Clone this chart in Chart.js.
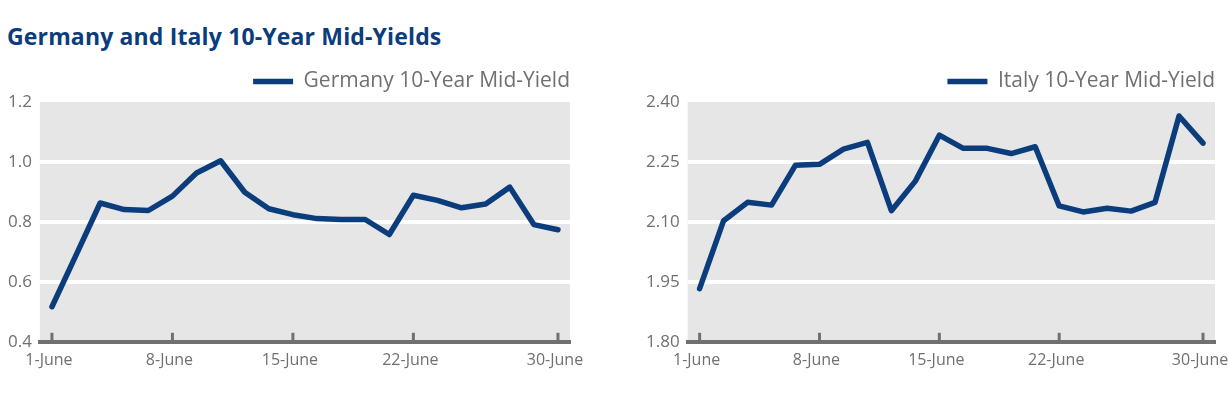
<!DOCTYPE html>
<html>
<head>
<meta charset="utf-8">
<script src="https://cdn.jsdelivr.net/npm/chart.js@4/dist/chart.umd.min.js"></script>
<style>
  body { margin: 0; background: #fff; width: 1228px; height: 397px; position: relative; overflow: hidden; }
  #titulo { position: absolute; left: 7px; top: 20px; font-family: "Open Sans", sans-serif; font-weight: 700;
            font-size: 23px; color: #0b3d7c; letter-spacing: 0.15px; }
  .caja { position: absolute; top: 60px; height: 320px; width: 590px; }
</style>
</head>
<body>
<div id="titulo">Germany and Italy 10-Year Mid-Yields</div>
<div class="caja" style="left:0px"><canvas id="alemania"></canvas></div>
<div class="caja" style="left:638px"><canvas id="italia"></canvas></div>
<script>
// dias de mercado de junio
var dias = ['1-June','2-June','3-June','4-June','5-June','8-June','9-June','10-June','11-June','12-June',
  '15-June','16-June','17-June','18-June','19-June','22-June','23-June','24-June','25-June','26-June',
  '29-June','30-June'];
var etiquetas = ['1-June','8-June','15-June','22-June','30-June'];

var alemania = [0.517, 0.689, 0.863, 0.841, 0.838, 0.886, 0.963, 1.004, 0.899, 0.844, 0.824,
  0.811, 0.808, 0.808, 0.758, 0.889, 0.872, 0.847, 0.860, 0.916, 0.791, 0.774];
var italia = [1.933, 2.103, 2.149, 2.142, 2.242, 2.244, 2.282, 2.299, 2.128, 2.202, 2.317,
  2.284, 2.284, 2.271, 2.288, 2.140, 2.125, 2.134, 2.127, 2.149, 2.365, 2.297];

var azul = '#0b3d7c';
var gris = '#707070';

// fondo gris y marcas del eje x
var fondo = {
  id: 'fondo',
  beforeDraw: function(chart){
    var a = chart.chartArea, c = chart.ctx;
    c.save();
    c.fillStyle = '#e6e6e6';
    c.fillRect(a.left, a.top, a.right - a.left, a.bottom - a.top);
    c.restore();
  },
  afterDraw: function(chart){
    var x = chart.scales.x, c = chart.ctx, a = chart.chartArea;
    c.save();
    c.strokeStyle = gris;
    c.lineWidth = 3;
    x.ticks.forEach(function(t, i){
      if (t.label == null || t.label === '') return;
      var px = x.getPixelForTick(i);
      c.beginPath();
      c.moveTo(px, a.bottom);
      c.lineTo(px, a.bottom - 9);
      c.stroke();
    });
    c.restore();
  }
};

function grafico(id, nombre, datos, min, max, paso, dec, derecha){
  var ctx = document.getElementById(id).getContext('2d');
  return new Chart(ctx, {
    type: 'line',
    data: {
      labels: dias,
      datasets: [{
        label: nombre,
        data: datos,
        borderColor: azul,
        backgroundColor: azul,
        borderWidth: 5.5,
        borderCapStyle: 'round',
        borderJoinStyle: 'round',
        pointRadius: 0,
        tension: 0
      }]
    },
    options: {
      responsive: true,
      maintainAspectRatio: false,
      animation: false,
      layout: { padding: { top: 11, right: derecha, bottom: 1, left: 0 } },
      plugins: {
        tooltip: { enabled: false },
        legend: {
          position: 'top',
          align: 'end',
          labels: {
            usePointStyle: true,
            pointStyle: 'line',
            pointStyleWidth: 40,
            boxHeight: 10,
            color: gris,
            padding: 0,
            font: { family: '"Open Sans", sans-serif', size: 21 }
          }
        }
      },
      scales: {
        x: {
          type: 'category',
          offset: true,
          grid: { display: false, offset: false, drawTicks: false },
          border: { display: true, color: gris, width: 4 },
          afterFit: function(s){ s.paddingRight = 0; },
          ticks: {
            autoSkip: false,
            maxRotation: 0,
            padding: 9,
            labelOffset: -3,
            color: gris,
            font: { family: '"Open Sans", sans-serif', size: 16 },
            callback: function(v){
              var l = this.getLabelForValue(v);
              return etiquetas.indexOf(l) >= 0 ? l : null;
            }
          }
        },
        y: {
          min: min,
          max: max,
          grid: {
            drawTicks: false,
            lineWidth: 4,
            color: function(c){
              return (c.tick.value <= min || c.tick.value >= max) ? 'rgba(0,0,0,0)' : '#ffffff';
            }
          },
          border: { display: false },
          ticks: {
            stepSize: paso,
            padding: 8,
            color: gris,
            font: { family: '"Open Sans", sans-serif', size: 17 },
            callback: function(v){ return Number(v).toFixed(dec); }
          }
        }
      }
    },
    plugins: [fondo]
  });
}

grafico('alemania', 'Germany 10-Year Mid-Yield', alemania, 0.4, 1.2, 0.2, 1, 20);
grafico('italia', 'Italy 10-Year Mid-Yield', italia, 1.8, 2.4, 0.15, 2, 13);
</script>
</body>
</html>
